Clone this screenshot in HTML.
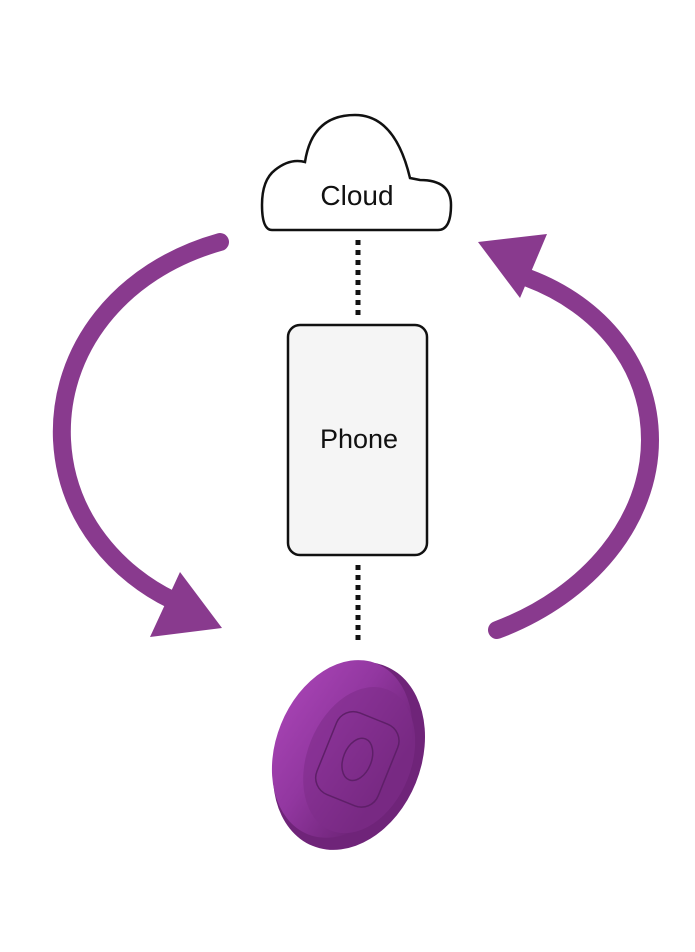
<!DOCTYPE html>
<html><head><style>body{margin:0;background:#fff;width:695px;height:947px;overflow:hidden}</style></head>
<body>
<svg width="695" height="947" viewBox="0 0 695 947" xmlns="http://www.w3.org/2000/svg">
<defs>
<linearGradient id="pg" x1="0" y1="0" x2="1" y2="0.3">
<stop offset="0" stop-color="#a844b5"/><stop offset="0.5" stop-color="#9237a0"/><stop offset="1" stop-color="#6e2478"/>
</linearGradient>
</defs>
<path d="M272,230 L438,230 Q451,230 451,205 Q451,180 420,180 L410,178 Q395,115 355,115 Q312,115 305,162 Q290,158 275,170 Q262,180 262,205 Q262,230 272,230 Z" fill="#fff" stroke="#111" stroke-width="2.5"/>
<text x="357" y="205" font-family="Liberation Sans, sans-serif" font-size="28" text-anchor="middle" fill="#111">Cloud</text>
<line x1="358" y1="240" x2="358" y2="316" stroke="#111" stroke-width="5" stroke-dasharray="5,5"/>
<line x1="358" y1="565" x2="358" y2="642" stroke="#111" stroke-width="5" stroke-dasharray="5,5"/>
<rect x="288" y="325" width="139" height="230" rx="12" fill="#f5f5f5" stroke="#111" stroke-width="2.5"/>
<text x="359" y="448" font-family="Liberation Sans, sans-serif" font-size="27" text-anchor="middle" fill="#111">Phone</text>
<path d="M220,242 C120,270 58,350 62,440 C66,520 120,575 172,600" fill="none" stroke="#893a8e" stroke-width="18" stroke-linecap="round"/>
<polygon points="150,637 222,628 180,572" fill="#893a8e"/>
<path d="M497,630 C590,595 650,520 650,440 C650,365 600,305 528,278" fill="none" stroke="#893a8e" stroke-width="18" stroke-linecap="round"/>
<polygon points="478,242 547,234 520,298" fill="#893a8e"/>
<g transform="rotate(22 349 756)">
<ellipse cx="349" cy="756" rx="72" ry="97" fill="#6f2479"/>
<ellipse cx="340" cy="752" rx="66" ry="92" fill="url(#pg)"/>
<ellipse cx="360" cy="756" rx="52" ry="76" fill="#7f2d8a" opacity="0.6"/>
<rect x="325" y="712" width="66" height="88" rx="18" fill="none" stroke="#5e1f68" stroke-width="1.5"/>
<ellipse cx="358" cy="756" rx="14" ry="22" fill="none" stroke="#5e1f68" stroke-width="1.5"/>
</g>
</svg>
</body></html>
